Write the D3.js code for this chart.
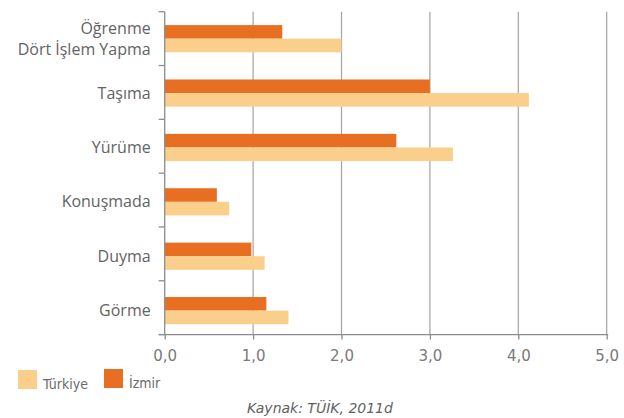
<!DOCTYPE html>
<html>
<head>
<meta charset="utf-8">
<script src="https://cdn.jsdelivr.net/npm/d3@7"></script>
<style>
  body { margin: 0; background: #fff; }
  svg { display: block; }
</style>
</head>
<body>
<svg></svg>
<script>
// categories top to bottom, "\n" splits a label over two lines
var categories = ["Öğrenme\nDört İşlem Yapma", "Taşıma", "Yürüme", "Konuşmada", "Duyma", "Görme"];
var izmirValues = [1.33, 3.0, 2.62, 0.59, 0.98, 1.15];
var turkiyeValues = [2.0, 4.12, 3.26, 0.73, 1.13, 1.40];
var seriesNames = ["İzmir", "Türkiye"];
var xTicks = [0, 1, 2, 3, 4, 5];
var sourceText = "Kaynak: TÜİK, 2011d";

var width = 624;
var height = 418;
var plotLeft = 164.7, plotRight = 606.7, plotTop = 11.7, plotBottom = 334.6;
var colors = { "İzmir": "#e86f22", "Türkiye": "#f9cf8b" };

var rows = categories.map(function(c, i) {
  return { cat: c, "İzmir": izmirValues[i], "Türkiye": turkiyeValues[i] };
});

var svg = d3.select("svg").attr("width", width).attr("height", height);

var xScale = d3.scaleLinear().domain([0, 5]).range([plotLeft, plotRight]);

var yScale = d3.scaleBand()
  .domain(categories)
  .range([plotTop - 0.2, plotBottom + 3.2])
  .paddingInner(0.5)
  .paddingOuter(0.25);

var yInner = d3.scaleBand()
  .domain(seriesNames)
  .range([0, yScale.bandwidth()]);

var trFormat = d3.formatLocale({ decimal: ",", thousands: ".", grouping: [3], currency: ["", "₺"] }).format(".1f");

// gridlines
svg.append("g")
  .selectAll("line")
  .data(xTicks.slice(1))
  .enter()
  .append("line")
    .attr("x1", d => xScale(d))
    .attr("x2", d => xScale(d))
    .attr("y1", plotTop)
    .attr("y2", plotBottom)
    .attr("stroke", "#a3a3a3")
    .attr("stroke-width", 1.2);

// bars
var groups = svg.append("g")
  .selectAll("g")
  .data(rows)
  .enter()
  .append("g")
    .attr("transform", d => "translate(0," + yScale(d.cat) + ")");

groups.selectAll("rect")
  .data(d => seriesNames.map(s => ({ key: s, value: d[s] })))
  .enter()
  .append("rect")
    .attr("x", xScale(0))
    .attr("y", d => yInner(d.key))
    .attr("width", d => xScale(d.value) - xScale(0))
    .attr("height", yInner.bandwidth())
    .attr("fill", d => colors[d.key]);

// bottom axis
var xAxis = d3.axisBottom(xScale)
  .tickValues(xTicks)
  .tickFormat(trFormat)
  .tickSize(5)
  .tickPadding(11);

var gx = svg.append("g")
  .attr("transform", "translate(0," + plotBottom + ")")
  .call(xAxis);

gx.select(".domain").attr("stroke", "#8c8c8c").attr("stroke-width", 1.3)
  .attr("d", "M" + (plotLeft - 6) + ",0H" + (plotRight + 1.5));
gx.selectAll(".tick line").attr("stroke", "#8c8c8c").attr("stroke-width", 1.3);
gx.selectAll(".tick text")
  .attr("fill", "#7a7a7a")
  .style("font-family", "'DejaVu Sans', sans-serif")
  .style("font-size", "15px");

// left axis line with ticks at category boundaries
var step = (plotBottom - plotTop) / categories.length;
var bounds = d3.range(categories.length + 1).map(i => plotTop + i * step);

svg.append("line")
  .attr("x1", plotLeft).attr("x2", plotLeft)
  .attr("y1", plotTop).attr("y2", plotBottom)
  .attr("stroke", "#8c8c8c")
  .attr("stroke-width", 1.3);

svg.append("g")
  .selectAll("line")
  .data(bounds)
  .enter()
  .append("line")
    .attr("x1", plotLeft - 6)
    .attr("x2", plotLeft)
    .attr("y1", d => d)
    .attr("y2", d => d)
    .attr("stroke", "#8c8c8c")
    .attr("stroke-width", 1.3);

// category labels
var labels = svg.append("g")
  .selectAll("text")
  .data(categories)
  .enter()
  .append("text")
    .attr("x", plotLeft - 14)
    .attr("y", d => yScale(d) + yScale.bandwidth() / 2)
    .attr("text-anchor", "end")
    .attr("fill", "#636363")
    .style("font-family", "'Open Sans', sans-serif")
    .style("font-size", "16px");

labels.each(function(d) {
  var lines = d.split("\n");
  var el = d3.select(this);
  lines.forEach(function(line, i) {
    el.append("tspan")
      .attr("x", plotLeft - 14)
      .attr("dy", i === 0 ? (0.35 - (lines.length - 1) * 0.65) + "em" : "1.3em")
      .text(line);
  });
});

// legend
var legendItems = [
  { name: "Türkiye", x: 18, y: 370 },
  { name: "İzmir", x: 104, y: 369 }
];

var legend = svg.append("g")
  .selectAll("g")
  .data(legendItems)
  .enter()
  .append("g")
    .attr("transform", d => "translate(" + d.x + "," + d.y + ")");

legend.append("rect")
  .attr("width", 19)
  .attr("height", 19)
  .attr("fill", d => colors[d.name]);

legend.append("text")
  .text(d => d.name)
  .attr("x", 25)
  .attr("y", 19)
  .attr("fill", "#6b6b6b")
  .style("font-family", "'DejaVu Sans Condensed', 'Liberation Sans Narrow', sans-serif")
  .style("font-size", "14px");

// source
svg.append("text")
  .text(sourceText)
  .attr("x", 320)
  .attr("y", 413)
  .attr("text-anchor", "middle")
  .attr("fill", "#626262")
  .style("font-family", "'DejaVu Sans', sans-serif")
  .style("font-style", "italic")
  .style("font-size", "14px");
</script>
</body>
</html>
